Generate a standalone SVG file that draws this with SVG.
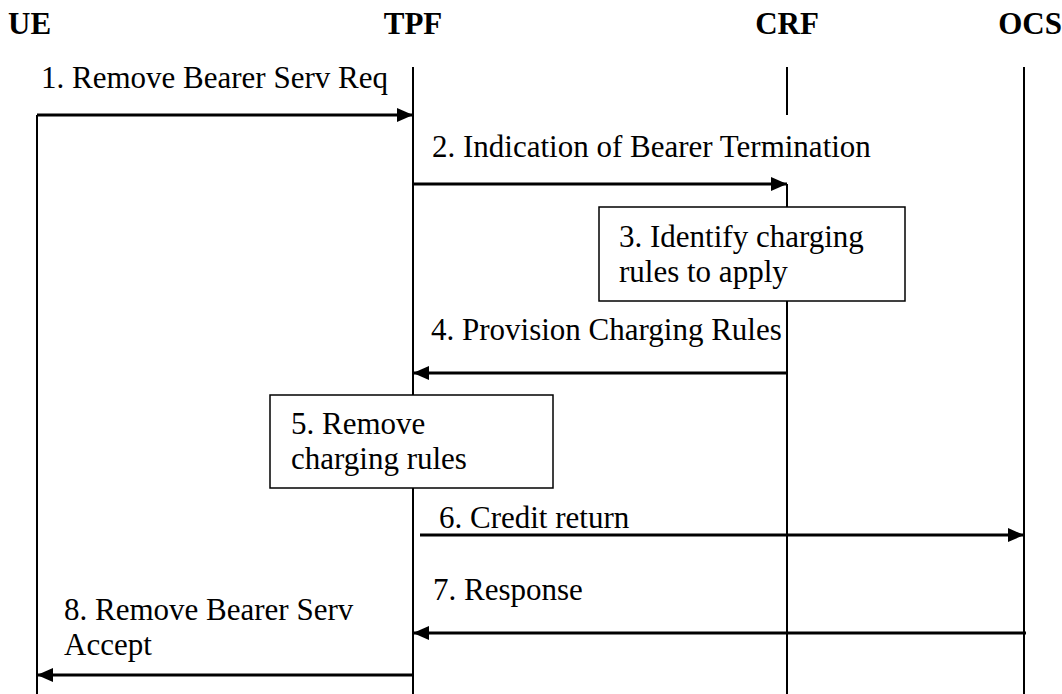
<svg xmlns="http://www.w3.org/2000/svg" width="1062" height="694" viewBox="0 0 1062 694">
<style>
text{font-family:"Liberation Serif","Times New Roman",serif;font-size:31px;fill:#000}
.hdr{font-weight:bold}
.life{stroke:#000;stroke-width:2;fill:none}
.msg{stroke:#000;stroke-width:3.2;fill:none}
.box{fill:#fff;stroke:#000;stroke-width:1.5}
</style>
<defs>
<marker id="ah" viewBox="0 0 16 14" refX="16" refY="7" markerWidth="16" markerHeight="14" markerUnits="userSpaceOnUse" orient="auto">
<path d="M0,0 L16,7 L0,14 Z" fill="#000"/>
</marker>
</defs>
<rect width="1062" height="694" fill="#fff"/>
<g id="UE">
<text class="hdr" x="8" y="34">UE</text>
<line class="life" x1="37" y1="115" x2="37" y2="694"/>
</g>
<g id="TPF">
<text class="hdr" x="413" y="34" text-anchor="middle">TPF</text>
<line class="life" x1="413" y1="67" x2="413" y2="694"/>
</g>
<g id="CRF">
<text class="hdr" x="787" y="34" text-anchor="middle">CRF</text>
<line class="life" x1="787" y1="67" x2="787" y2="115" stroke-width="1.6"/>
<line class="life" x1="787" y1="184" x2="787" y2="694" stroke-width="1.6"/>
</g>
<g id="OCS">
<text class="hdr" x="1062" y="34" text-anchor="end">OCS</text>
<line class="life" x1="1024" y1="67" x2="1024" y2="694"/>
</g>
<g id="step3">
<rect class="box" x="599" y="207" width="306" height="94"/>
<text x="619" y="247">3. Identify charging</text>
<text x="619" y="282">rules to apply</text>
</g>
<g id="step5">
<rect class="box" x="270" y="395" width="283" height="93"/>
<text x="291" y="434">5. Remove</text>
<text x="291" y="469">charging rules</text>
</g>
<g id="connectors">
<line class="msg" x1="37" y1="115" x2="413" y2="115" marker-end="url(#ah)"/>
<text x="41" y="88">1. Remove Bearer Serv Req</text>
<line class="msg" x1="413" y1="184" x2="787" y2="184" marker-end="url(#ah)"/>
<text x="432" y="157">2. Indication of Bearer Termination</text>
<line class="msg" x1="787" y1="373" x2="413" y2="373" marker-end="url(#ah)"/>
<text x="431" y="340">4. Provision Charging Rules</text>
<line class="msg" x1="420" y1="535" x2="1024" y2="535" marker-end="url(#ah)"/>
<text x="439" y="528">6. Credit return</text>
<line class="msg" x1="1026" y1="633" x2="413" y2="633" marker-end="url(#ah)"/>
<text x="433" y="600">7. Response</text>
<line class="msg" x1="413" y1="675" x2="37" y2="675" marker-end="url(#ah)"/>
<text x="64" y="620">8. Remove Bearer Serv</text>
<text x="64" y="655">Accept</text>
</g>
</svg>
